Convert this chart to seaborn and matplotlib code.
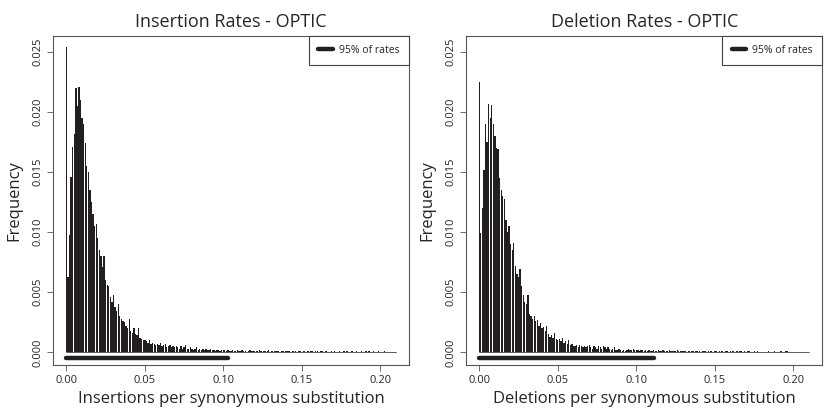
import numpy as np
import pandas as pd
import matplotlib
matplotlib.use("Agg")
import matplotlib.pyplot as plt
import seaborn as sns

BIN_WIDTH = 0.001

# frequency per 0.001-wide rate bin, starting at 0.000 (211 bins up to 0.210)
INS_FREQ = [
    0.0254, 0.0063, 0.0098, 0.0146, 0.0171, 0.0182, 0.0220, 0.0205, 0.0221, 0.0210,
    0.0195, 0.0190, 0.0174, 0.0155, 0.0150, 0.0135, 0.0125, 0.0115, 0.0105, 0.0107,
    0.0095, 0.0085, 0.0080, 0.0071, 0.0080, 0.0060, 0.0056, 0.0055, 0.0046, 0.0042,
    0.0048, 0.0038, 0.0034, 0.0040, 0.0030, 0.0028, 0.0026, 0.0025, 0.0022, 0.0020,
    0.0028, 0.0018, 0.0016, 0.0020, 0.0015, 0.0014, 0.0020, 0.0012, 0.0011, 0.0010,
    0.0010, 0.0009, 0.0008, 0.0010, 0.0007, 0.0008, 0.0007, 0.0006, 0.0007, 0.0006,
    0.0008, 0.0005, 0.0006, 0.0007, 0.0004, 0.0005, 0.0006, 0.0004, 0.0005, 0.0004,
    0.0005, 0.0004, 0.0003, 0.0005, 0.0003, 0.0004, 0.0006, 0.0003, 0.0003, 0.0004,
    0.0003, 0.0002, 0.0003, 0.0004, 0.0002, 0.0003, 0.0002, 0.0003, 0.0002, 0.0003,
    0.0002, 0.0002, 0.0003, 0.0002, 0.0002, 0.0001, 0.0002, 0.0002, 0.0001, 0.0002,
    0.0002, 0.0002, 0.0001, 0.0002, 0.0001, 0.0001, 0.0002, 0.0001, 0.0001, 0.0002,
    0.0001, 0.0001, 0.0002, 0.0001, 0.0001, 0.0000, 0.0001, 0.0002, 0.0001, 0.0001,
    0.0001, 0.0001, 0.0001, 0.0002, 0.0001, 0.0000, 0.0001, 0.0001, 0.0001, 0.0002,
    0.0000, 0.0001, 0.0000, 0.0001, 0.0001, 0.0001, 0.0000, 0.0001, 0.0001, 0.0000,
    0.0001, 0.0001, 0.0001, 0.0000, 0.0001, 0.0001, 0.0001, 0.0000, 0.0001, 0.0001,
    0.0000, 0.0001, 0.0001, 0.0000, 0.0001, 0.0000, 0.0001, 0.0001, 0.0000, 0.0001,
    0.0001, 0.0000, 0.0001, 0.0001, 0.0000, 0.0001, 0.0001, 0.0000, 0.0000, 0.0001,
    0.0000, 0.0001, 0.0000, 0.0000, 0.0001, 0.0000, 0.0000, 0.0001, 0.0000, 0.0001,
    0.0000, 0.0000, 0.0001, 0.0000, 0.0000, 0.0001, 0.0000, 0.0000, 0.0001, 0.0000,
    0.0000, 0.0001, 0.0000, 0.0001, 0.0000, 0.0000, 0.0001, 0.0000, 0.0000, 0.0001,
    0.0000, 0.0000, 0.0000, 0.0001, 0.0000, 0.0000, 0.0000, 0.0000, 0.0000, 0.0000,
    0.0000,
]

DEL_FREQ = [
    0.0225, 0.0099, 0.0120, 0.0152, 0.0190, 0.0175, 0.0207, 0.0195, 0.0206, 0.0190,
    0.0180, 0.0170, 0.0169, 0.0145, 0.0135, 0.0130, 0.0128, 0.0110, 0.0100, 0.0105,
    0.0090, 0.0085, 0.0091, 0.0072, 0.0065, 0.0063, 0.0069, 0.0055, 0.0048, 0.0042,
    0.0040, 0.0048, 0.0032, 0.0030, 0.0028, 0.0030, 0.0026, 0.0027, 0.0022, 0.0024,
    0.0020, 0.0021, 0.0018, 0.0022, 0.0015, 0.0013, 0.0014, 0.0012, 0.0016, 0.0011,
    0.0010, 0.0011, 0.0009, 0.0012, 0.0008, 0.0009, 0.0007, 0.0010, 0.0006, 0.0007,
    0.0005, 0.0005, 0.0006, 0.0004, 0.0006, 0.0005, 0.0004, 0.0005, 0.0004, 0.0005,
    0.0006, 0.0004, 0.0003, 0.0005, 0.0004, 0.0003, 0.0005, 0.0004, 0.0003, 0.0005,
    0.0004, 0.0003, 0.0004, 0.0003, 0.0002, 0.0003, 0.0004, 0.0002, 0.0002, 0.0003,
    0.0002, 0.0001, 0.0002, 0.0001, 0.0002, 0.0003, 0.0002, 0.0002, 0.0003, 0.0002,
    0.0002, 0.0002, 0.0001, 0.0002, 0.0002, 0.0001, 0.0002, 0.0001, 0.0002, 0.0001,
    0.0001, 0.0002, 0.0001, 0.0001, 0.0002, 0.0001, 0.0001, 0.0002, 0.0001, 0.0001,
    0.0001, 0.0002, 0.0001, 0.0001, 0.0001, 0.0001, 0.0002, 0.0001, 0.0001, 0.0001,
    0.0001, 0.0001, 0.0000, 0.0001, 0.0001, 0.0001, 0.0001, 0.0000, 0.0001, 0.0001,
    0.0001, 0.0000, 0.0001, 0.0001, 0.0001, 0.0000, 0.0001, 0.0001, 0.0001, 0.0000,
    0.0001, 0.0001, 0.0000, 0.0001, 0.0001, 0.0001, 0.0000, 0.0001, 0.0001, 0.0000,
    0.0001, 0.0001, 0.0001, 0.0000, 0.0001, 0.0000, 0.0001, 0.0001, 0.0000, 0.0001,
    0.0000, 0.0001, 0.0001, 0.0000, 0.0000, 0.0001, 0.0000, 0.0001, 0.0000, 0.0000,
    0.0000, 0.0000, 0.0000, 0.0000, 0.0001, 0.0000, 0.0000, 0.0000, 0.0001, 0.0000,
    0.0000, 0.0000, 0.0001, 0.0000, 0.0000, 0.0001, 0.0001, 0.0000, 0.0000, 0.0000,
    0.0000, 0.0000, 0.0000, 0.0000, 0.0000, 0.0000, 0.0000, 0.0000, 0.0000, 0.0000,
    0.0000,
]

# upper end of the range holding 95% of rates
INS_95 = 0.103
DEL_95 = 0.111

TITLES  = ["Insertion Rates - OPTIC", "Deletion Rates - OPTIC"]
XLABELS = ["Insertions per synonymous substitution",
           "Deletions per synonymous substitution"]
XTICKS  = [0.00, 0.05, 0.10, 0.15, 0.20]
YTICKS  = [0.000, 0.005, 0.010, 0.015, 0.020, 0.025]

BAR_COLOR   = "#231f20"
FRAME_COLOR = "#555555"

sns.set_style("white")
plt.rcParams["font.family"] = ["Open Sans", "DejaVu Sans"]


def draw_panel(ax, freq, hi95, title, xlabel):
    df = pd.DataFrame({"rate": np.arange(len(freq)) * BIN_WIDTH,
                       "freq": freq})
    lo, hi = df["rate"].iloc[0], df["rate"].iloc[-1]
    sns.histplot(data=df, x="rate", weights="freq", binwidth=BIN_WIDTH,
                 binrange=(lo - BIN_WIDTH / 2, hi + BIN_WIDTH / 2),
                 shrink=0.85, color=BAR_COLOR, alpha=1, linewidth=0, ax=ax)
    ax.plot([lo, hi], [0, 0], color="#444444", lw=0.6)
    ax.plot([0, hi95], [-0.0005, -0.0005], color=BAR_COLOR, lw=3.2,
            solid_capstyle="round", label="95% of rates")

    ax.set_xlim(-0.0084, 0.2184)
    ax.set_ylim(-0.00106, 0.02638)
    ax.set_xticks(XTICKS)
    ax.set_xticklabels([f"{t:.2f}" for t in XTICKS])
    ax.set_yticks(YTICKS)
    ax.set_yticklabels([f"{t:.3f}" for t in YTICKS], rotation=90, va="center")
    ax.tick_params(axis="both", direction="out", length=4, width=0.6,
                   color=FRAME_COLOR, labelsize=8, pad=3, left=True,
                   bottom=True)
    for sp in ax.spines.values():
        sp.set_color(FRAME_COLOR)
        sp.set_linewidth(0.8)

    ax.set_title(title, fontsize=13, pad=6)
    ax.set_xlabel(xlabel, fontsize=12, labelpad=4)
    ax.set_ylabel("Frequency", fontsize=12, labelpad=7)

    leg = ax.legend(loc="upper right", borderaxespad=0, fontsize=7.5,
                    fancybox=False, handlelength=1.4, handletextpad=0.6,
                    borderpad=0.9, framealpha=1)
    leg.get_frame().set_edgecolor("#444444")
    leg.get_frame().set_linewidth(0.8)


fig = plt.figure(figsize=(8.31, 4.17), dpi=100)
ax1 = fig.add_axes([0.0641, 0.1247, 0.428, 0.790])
ax2 = fig.add_axes([0.5608, 0.1247, 0.4288, 0.790])

draw_panel(ax1, INS_FREQ, INS_95, TITLES[0], XLABELS[0])
draw_panel(ax2, DEL_FREQ, DEL_95, TITLES[1], XLABELS[1])

fig.savefig("out.png", dpi=100)
